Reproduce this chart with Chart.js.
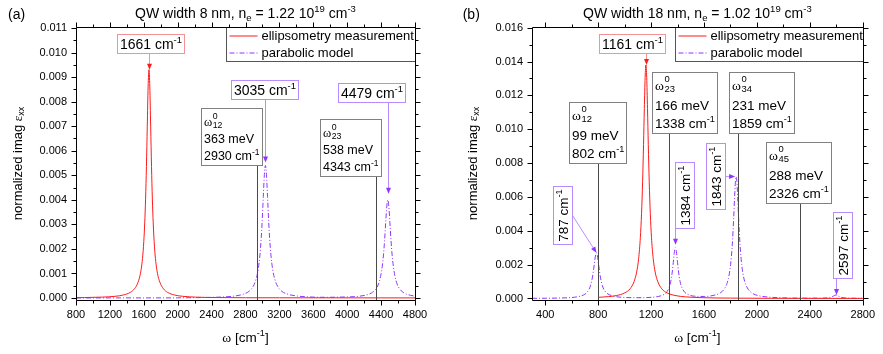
<!DOCTYPE html>
<html lang="en">
  <head>
    <meta charset="UTF-8" />
    <title>Intersubband absorption of quantum wells</title>
    <style>
      html, body { margin: 0; padding: 0; background: #fff; overflow: hidden; }
      #wrap { position: relative; width: 883px; height: 354px; }
      #wrap canvas { position: absolute; top: 0; }
      #chartA { left: 0; }
      #chartB { left: 440px; }
    </style>
  </head>
  <body>
    <div id="wrap">
      <canvas id="chartA" width="440" height="354"></canvas>
      <canvas id="chartB" width="443" height="354"></canvas>
    </div>

    <script src="https://cdn.jsdelivr.net/npm/chart.js@4.4.1/dist/chart.umd.min.js"></script>
    <script>
      // ---- panel (a): QW width 8 nm ----
      var aRedX = [800, 900, 1100, 1260, 1360, 1440, 1491, 1531, 1561, 1581, 1596, 1611, 1621, 1631, 1641, 1651, 1661, 1671, 1681, 1691, 1701, 1711, 1726, 1741, 1761, 1791, 1831, 1881, 1961, 2061, 2211, 2461, 2800, 3200, 3800, 4400, 4800];
      var aRedY = [0.000015, 0.00002, 0.000036, 0.00007, 0.000125, 0.00023, 0.00038, 0.00063, 0.00101, 0.00149, 0.00209, 0.00306, 0.00403, 0.00536, 0.0070, 0.0086, 0.0093, 0.0086, 0.0070, 0.00536, 0.00403, 0.00306, 0.00209, 0.00149, 0.00101, 0.00063, 0.00038, 0.00023, 0.000125, 0.00007, 0.000037, 0.00002, 0.000012, 0.00001, 0.000008, 0.000006, 0.000005];
      var aVioX = [800, 1200, 1600, 2000, 2235, 2485, 2655, 2765, 2840, 2890, 2925, 2950, 2970, 2985, 2997, 3010, 3023, 3035, 3047, 3060, 3073, 3085, 3100, 3120, 3145, 3180, 3230, 3305, 3415, 3585, 3757, 3929, 4099, 4209, 4284, 4334, 4369, 4394, 4414, 4429, 4441, 4454, 4467, 4479, 4491, 4504, 4517, 4529, 4544, 4564, 4589, 4624, 4674, 4749, 4800];
      var aVioY = [0.000004, 0.000005, 0.000006, 0.000008, 0.000017, 0.000036, 0.000075, 0.000146, 0.00027, 0.00047, 0.00077, 0.00118, 0.00175, 0.00242, 0.00315, 0.00413, 0.00504, 0.0054, 0.00504, 0.00413, 0.00315, 0.00242, 0.00175, 0.00118, 0.00077, 0.00047, 0.00027, 0.00015, 0.00008, 0.00004, 0.00003, 0.00004, 0.00006, 0.00011, 0.0002, 0.00035, 0.00057, 0.00088, 0.0013, 0.00179, 0.00234, 0.00306, 0.00373, 0.0040, 0.00373, 0.00306, 0.00234, 0.00179, 0.0013, 0.00088, 0.00057, 0.00035, 0.0002, 0.00011, 0.00008];
      var aXTicks = [800, 1200, 1600, 2000, 2400, 2800, 3200, 3600, 4000, 4400, 4800];
      var aYTicks = [0, 0.001, 0.002, 0.003, 0.004, 0.005, 0.006, 0.007, 0.008, 0.009, 0.010, 0.011];
      var aPeakWn = [1661, 3035, 4479];
      var aPeakVal = [0.0093, 0.0054, 0.0040];
      var aTransSub = ['12', '23'];
      var aTransMeV = [363, 538];
      var aTransWn = [2930, 4343];

      // ---- panel (b): QW width 18 nm ----
      var bRedX = [800, 880, 941, 1001, 1041, 1071, 1091, 1106, 1119, 1128, 1136, 1143, 1149, 1155, 1161, 1167, 1173, 1179, 1186, 1194, 1203, 1216, 1231, 1251, 1281, 1321, 1381, 1461, 1600, 1800, 2100, 2500, 2800];
      var bRedY = [0.000066, 0.00011, 0.000176, 0.00033, 0.00057, 0.00099, 0.00156, 0.00236, 0.00361, 0.00503, 0.0069, 0.00909, 0.01122, 0.01305, 0.0138, 0.01305, 0.01122, 0.00909, 0.0069, 0.00503, 0.00361, 0.00236, 0.00156, 0.00099, 0.00057, 0.00033, 0.000176, 0.000095, 0.000045, 0.000021, 0.00001, 0.000006, 0.000005];
      var bVioX = [300, 400, 500, 580, 640, 690, 720, 742, 757, 767, 775, 781, 787, 793, 799, 807, 817, 832, 852, 882, 932, 1002, 1082, 1162, 1232, 1282, 1314, 1334, 1349, 1360, 1368, 1375, 1380, 1384, 1388, 1393, 1400, 1408, 1419, 1434, 1454, 1486, 1536, 1606, 1676, 1723, 1758, 1783, 1801, 1814, 1824, 1831, 1837, 1843, 1849, 1855, 1862, 1872, 1885, 1903, 1928, 1963, 2013, 2093, 2200, 2330, 2430, 2497, 2537, 2562, 2580, 2597, 2614, 2632, 2657, 2697, 2760, 2800];
      var bVioY = [0.00001, 0.000014, 0.000025, 0.000048, 0.000095, 0.00021, 0.0004, 0.00075, 0.00126, 0.00179, 0.00228, 0.00258, 0.0027, 0.00258, 0.00228, 0.00179, 0.00126, 0.00075, 0.00043, 0.00023, 0.00011, 0.00006, 0.000045, 0.000053, 0.00009, 0.00018, 0.00034, 0.0006, 0.00101, 0.00156, 0.00213, 0.00266, 0.00293, 0.0030, 0.00293, 0.00266, 0.00213, 0.00156, 0.00101, 0.00063, 0.00037, 0.00021, 0.00013, 0.00012, 0.00019, 0.00033, 0.00062, 0.00114, 0.002, 0.00321, 0.00469, 0.00594, 0.00684, 0.0072, 0.00684, 0.00594, 0.00469, 0.00321, 0.002, 0.00114, 0.00062, 0.00032, 0.000165, 0.000077, 0.000038, 0.00002, 0.00002, 0.000023, 0.00004, 0.000078, 0.000147, 0.00021, 0.000147, 0.000078, 0.00004, 0.00002, 0.000012, 0.00001];
      var bXTicks = [400, 800, 1200, 1600, 2000, 2400, 2800];
      var bYTicks = [0, 0.002, 0.004, 0.006, 0.008, 0.010, 0.012, 0.014, 0.016];
      var bPeakWn = [1161, 787, 1384, 1843, 2597];
      var bPeakVal = [0.0138, 0.0027, 0.0030, 0.0072, 0.0002];
      var bTransSub = ['12', '23', '34', '45'];
      var bTransMeV = [99, 166, 231, 288];
      var bTransWn = [802, 1338, 1859, 2326];

      var SANS = "'Liberation Sans', Arial, sans-serif";
      var SERIF = "'Liberation Serif', 'Times New Roman', serif";
      var RED = '#ff1a1a', RED_EDGE = '#f29494';
      var VIOLET = '#9035ff', VIOLET_EDGE = '#b88cff';

      function setFont(ctx, size, fam) {
        ctx.font = size + 'px ' + (fam || SANS);
      }

      // parts: [text, mode, family]; mode '^' superscript, '_' subscript
      function richWidth(ctx, parts, size) {
        var w = 0;
        parts.forEach(function (p) {
          setFont(ctx, p[1] ? size * 0.68 : size, p[2]);
          w += ctx.measureText(p[0]).width;
        });
        return w;
      }

      function richText(ctx, parts, x, y, size, align) {
        var w = richWidth(ctx, parts, size);
        if (align === 'center') x -= w / 2;
        ctx.textAlign = 'left';
        ctx.textBaseline = 'alphabetic';
        parts.forEach(function (p) {
          var s = p[1] ? size * 0.68 : size;
          var dy = p[1] === '^' ? -size * 0.42 : p[1] === '_' ? size * 0.22 : 0;
          setFont(ctx, s, p[2]);
          ctx.fillText(p[0], x, y + dy);
          x += ctx.measureText(p[0]).width;
        });
        return w;
      }

      function wnParts(v) {
        return [[v + ' cm'], ['-1', '^']];
      }

      function omega(ctx, sub, x, y, size) {
        setFont(ctx, size, SERIF);
        ctx.textAlign = 'left';
        ctx.fillText('\u03c9', x, y);
        var ox = x + ctx.measureText('\u03c9').width + 0.5;
        setFont(ctx, size * 0.7);
        ctx.fillText('0', ox, y - size * 0.56);
        ctx.fillText(sub, ox, y + size * 0.18);
      }

      function arrow(ctx, x1, y1, x2, y2, lineCol, headCol) {
        var a = Math.atan2(y2 - y1, x2 - x1);
        var c = Math.cos(a), s = Math.sin(a);
        ctx.setLineDash([]);
        ctx.lineWidth = 1;
        ctx.strokeStyle = lineCol;
        ctx.beginPath();
        ctx.moveTo(x1, y1);
        ctx.lineTo(x2 - 5 * c, y2 - 5 * s);
        ctx.stroke();
        ctx.fillStyle = headCol;
        ctx.beginPath();
        ctx.moveTo(x2, y2);
        ctx.lineTo(x2 - 6 * c + 2.5 * s, y2 - 6 * s - 2.5 * c);
        ctx.lineTo(x2 - 6 * c - 2.5 * s, y2 - 6 * s + 2.5 * c);
        ctx.closePath();
        ctx.fill();
      }

      function midpoints(arr) {
        var out = [];
        for (var i = 0; i < arr.length - 1; i++) out.push((arr[i] + arr[i + 1]) / 2);
        return out;
      }

      // frame, mirrored ticks, titles, legend and annotations
      var panelDecor = {
        id: 'panelDecor',
        afterDraw: function (chart, args, o) {
          var ctx = chart.ctx;
          var ca = chart.chartArea;
          var xs = chart.scales.x, ys = chart.scales.y;
          var L = Math.round(ca.left) + 0.5, R = Math.round(ca.right) + 0.5;
          var T = Math.round(ca.top) + 0.5, B = Math.round(ca.bottom) + 0.5;
          ctx.save();

          // transition energy boxes with their connector lines
          o.transWn.forEach(function (w, i) {
            var t = o.trans[i], s = o.boxFont;
            var lx = Math.round(xs.getPixelForValue(w)) + 0.5;
            var bx = Math.round(lx + t.dx) + 0.5, by = Math.round(t.top) + 0.5;
            var l2 = [[o.transMeV[i] + ' meV']], l3 = wnParts(w);
            var bw = Math.round(Math.max(richWidth(ctx, l2, s), richWidth(ctx, l3, s)) + 5);
            ctx.setLineDash([]);
            ctx.lineWidth = 1;
            ctx.strokeStyle = '#4a4a4a';
            ctx.beginPath();
            ctx.moveTo(lx, B);
            ctx.lineTo(lx, by + o.boxH);
            ctx.stroke();
            ctx.fillStyle = '#fff';
            ctx.fillRect(bx, by, bw, o.boxH);
            ctx.strokeStyle = '#808080';
            ctx.strokeRect(bx, by, bw, o.boxH);
            ctx.fillStyle = '#000';
            omega(ctx, o.transSub[i], bx + 2.5, by + o.boxBase[0], s);
            richText(ctx, l2, bx + 2.5, by + o.boxBase[1], s);
            richText(ctx, l3, bx + 2.5, by + o.boxBase[2], s);
          });

          // peak position labels with arrows
          o.peakWn.forEach(function (w, i) {
            var p = o.peaks[i], s = p.size;
            var px = xs.getPixelForValue(w);
            var py = ys.getPixelForValue(o.peakVal[i]) - (p.gap || 0);
            var parts = wnParts(w);
            var tw = richWidth(ctx, parts, s);
            var bw = p.rot ? 19 : Math.round(tw + 5);
            var bh = p.rot ? Math.round(tw + 6) : 19;
            var bx = Math.round(p.cx - bw / 2) + 0.5, by = Math.round(p.cy - bh / 2) + 0.5;
            var head = p.c === 'r' ? RED : VIOLET, edge = p.c === 'r' ? RED_EDGE : VIOLET_EDGE;
            var ax = Math.round(px) + 0.5;
            if (p.arrow === 'down') arrow(ctx, ax, by + bh, ax, py, edge, head);
            else if (p.arrow === 'right') arrow(ctx, bx + bw, py, px - 1, py, edge, head);
            else arrow(ctx, bx + bw, by + bh / 2, px, py, edge, head);
            ctx.fillStyle = '#fff';
            ctx.fillRect(bx, by, bw, bh);
            ctx.strokeStyle = edge;
            ctx.strokeRect(bx, by, bw, bh);
            ctx.fillStyle = '#000';
            if (p.rot) {
              ctx.save();
              ctx.translate(bx + bw / 2, by + bh / 2);
              ctx.rotate(-Math.PI / 2);
              richText(ctx, parts, 0, s * 0.36, s, 'center');
              ctx.restore();
            } else {
              richText(ctx, parts, bx + bw / 2, by + bh / 2 + s * 0.36, s, 'center');
            }
          });

          // legend
          var lw = o.legendW, lx = Math.round(R - lw) + 0.5;
          ctx.fillStyle = '#fff';
          ctx.fillRect(lx, T, R - lx, 34);
          ctx.strokeStyle = '#555';
          ctx.lineWidth = 1;
          ctx.strokeRect(lx, T, R - lx, 34);
          chart.data.datasets.forEach(function (ds, i) {
            var yy = T + 8.5 + i * 17;
            ctx.strokeStyle = ds.borderColor;
            ctx.setLineDash(ds.borderDash || []);
            ctx.beginPath();
            ctx.moveTo(lx + 3, yy);
            ctx.lineTo(lx + 31, yy);
            ctx.stroke();
            ctx.setLineDash([]);
            ctx.fillStyle = '#000';
            setFont(ctx, 13);
            ctx.textAlign = 'left';
            ctx.textBaseline = 'middle';
            ctx.fillText(ds.label, lx + 35, yy + 0.5);
          });

          // frame and ticks on all four sides
          ctx.strokeStyle = '#000';
          ctx.lineWidth = 1;
          ctx.beginPath();
          function xTick(v, len) {
            var x = Math.round(xs.getPixelForValue(v)) + 0.5;
            ctx.moveTo(x, B); ctx.lineTo(x, B + len);
            ctx.moveTo(x, T); ctx.lineTo(x, T - len);
          }
          function yTick(v, len) {
            var y = Math.round(ys.getPixelForValue(v)) + 0.5;
            ctx.moveTo(L, y); ctx.lineTo(L - len, y);
            ctx.moveTo(R, y); ctx.lineTo(R + len, y);
          }
          var xv = xs.ticks.map(function (t) { return t.value; });
          var yv = ys.ticks.map(function (t) { return t.value; });
          xv.forEach(function (v) { xTick(v, 5); });
          midpoints(xv).forEach(function (v) { xTick(v, 3); });
          yv.forEach(function (v) { yTick(v, 5); });
          midpoints(yv).forEach(function (v) { yTick(v, 3); });
          ctx.rect(L, T, R - L, B - T);
          ctx.stroke();

          // titles
          ctx.fillStyle = '#000';
          var cx = (ca.left + ca.right) / 2;
          richText(ctx, o.title, cx, 17.5, 14, 'center');
          setFont(ctx, 14);
          ctx.fillText(o.tag, o.tagX, 19);
          richText(ctx, [['\u03c9', '', SERIF], [' [cm'], ['-1', '^'], [']']], cx, 341.5, 13.5, 'center');
          ctx.save();
          ctx.translate(o.yTitleX, (ca.top + ca.bottom) / 2);
          ctx.rotate(-Math.PI / 2);
          richText(ctx, [['normalized imag '], ['\u03b5', '', SERIF], ['xx', '_']], 0, 4.5, 13, 'center');
          ctx.restore();

          ctx.restore();
        }
      };

      function pts(xs, ys) {
        return xs.map(function (x, i) {
          return { x: x, y: ys[i] };
        });
      }

      function makePanel(id, p) {
        return new Chart(document.getElementById(id), {
          type: 'scatter',
          data: {
            datasets: [
              {
                label: 'ellipsometry measurement',
                data: pts(p.redX, p.redY),
                borderColor: RED,
                borderWidth: 1,
                showLine: true,
                pointRadius: 0,
                cubicInterpolationMode: 'monotone',
              },
              {
                label: 'parabolic model',
                data: pts(p.vioX, p.vioY),
                borderColor: VIOLET,
                borderWidth: 1,
                borderDash: [5, 2, 1, 2],
                showLine: true,
                pointRadius: 0,
                cubicInterpolationMode: 'monotone',
              },
            ],
          },
          options: {
            responsive: false,
            animation: false,
            devicePixelRatio: 1,
            events: [],
            layout: { padding: { top: 27, right: p.padRight, left: 0, bottom: 0 } },
            plugins: {
              legend: { display: false },
              tooltip: { enabled: false },
              panelDecor: p.decor,
            },
            scales: {
              x: {
                type: 'linear',
                min: p.xMin,
                max: p.xMax,
                afterBuildTicks: function (s) {
                  s.ticks = p.xTicks.map(function (v) { return { value: v }; });
                },
                afterFit: function (s) { s.height = 54; },
                grid: { display: false, drawTicks: false },
                border: { display: false },
                ticks: {
                  autoSkip: false,
                  maxRotation: 0,
                  padding: 8,
                  color: '#000',
                  font: { family: SANS, size: 11 },
                  callback: function (v) { return String(v); },
                },
              },
              y: {
                type: 'linear',
                min: p.yMin,
                max: p.yMax,
                afterBuildTicks: function (s) {
                  s.ticks = p.yTicks.map(function (v) { return { value: v }; });
                },
                afterFit: function (s) { s.width = p.yWidth; },
                grid: { display: false, drawTicks: false },
                border: { display: false },
                ticks: {
                  autoSkip: false,
                  padding: 9,
                  color: '#000',
                  font: { family: SANS, size: 11 },
                  callback: function (v) { return v.toFixed(3); },
                },
              },
            },
          },
          plugins: [panelDecor],
        });
      }

      makePanel('chartA', {
        redX: aRedX, redY: aRedY, vioX: aVioX, vioY: aVioY,
        xMin: 800, xMax: 4800, yMin: -0.00008, yMax: 0.01104,
        xTicks: aXTicks, yTicks: aYTicks,
        yWidth: 76, padRight: 25,
        decor: {
          tag: '(a)', tagX: 8,
          title: [['QW width 8 nm, n'], ['e', '_'], [' = 1.22 10'], ['19', '^'], [' cm'], ['-3', '^']],
          yTitleX: 17,
          legendW: 190,
          boxFont: 12.5, boxH: 57, boxBase: [17.5, 34, 51.5],
          transSub: aTransSub, transMeV: aTransMeV, transWn: aTransWn,
          trans: [{ dx: -57, top: 107.7 }, { dx: -57, top: 119.3 }],
          peakWn: aPeakWn, peakVal: aPeakVal,
          peaks: [
            { cx: 150, cy: 43, c: 'r', arrow: 'down', size: 14 },
            { cx: 264.2, cy: 89.5, c: 'v', arrow: 'down', size: 14, gap: 3 },
            { cx: 371.7, cy: 92.5, c: 'v', arrow: 'down', size: 14, gap: 6 },
          ],
        },
      });

      makePanel('chartB', {
        redX: bRedX, redY: bRedY, vioX: bVioX, vioY: bVioY,
        xMin: 300, xMax: 2800, yMin: -0.00009, yMax: 0.01604,
        xTicks: bXTicks, yTicks: bYTicks,
        yWidth: 92, padRight: 13,
        decor: {
          tag: '(b)', tagX: 22.7,
          title: [['QW width 18 nm, n'], ['e', '_'], [' = 1.02 10'], ['19', '^'], [' cm'], ['-3', '^']],
          yTitleX: 32,
          legendW: 189,
          boxFont: 13.5, boxH: 61, boxBase: [17, 37, 55],
          transSub: bTransSub, transMeV: bTransMeV, transWn: bTransWn,
          trans: [{ dx: -29.3, top: 102.3 }, { dx: -17.2, top: 71.7 }, { dx: -9.2, top: 72.3 }, { dx: -34.2, top: 142.3 }],
          peakWn: bPeakWn, peakVal: bPeakVal,
          peaks: [
            { cx: 192, cy: 43.8, c: 'r', arrow: 'down', size: 14 },
            { cx: 122.8, cy: 215, c: 'v', rot: true, arrow: 'diag', size: 13.5 },
            { cx: 244.7, cy: 195.3, c: 'v', rot: true, arrow: 'down', size: 13.5, gap: 3 },
            { cx: 275, cy: 176.3, c: 'v', rot: true, arrow: 'right', size: 13.5 },
            { cx: 402.2, cy: 244.7, c: 'v', rot: true, arrow: 'down', size: 13.5 },
          ],
        },
      });
    </script>
  </body>
</html>
